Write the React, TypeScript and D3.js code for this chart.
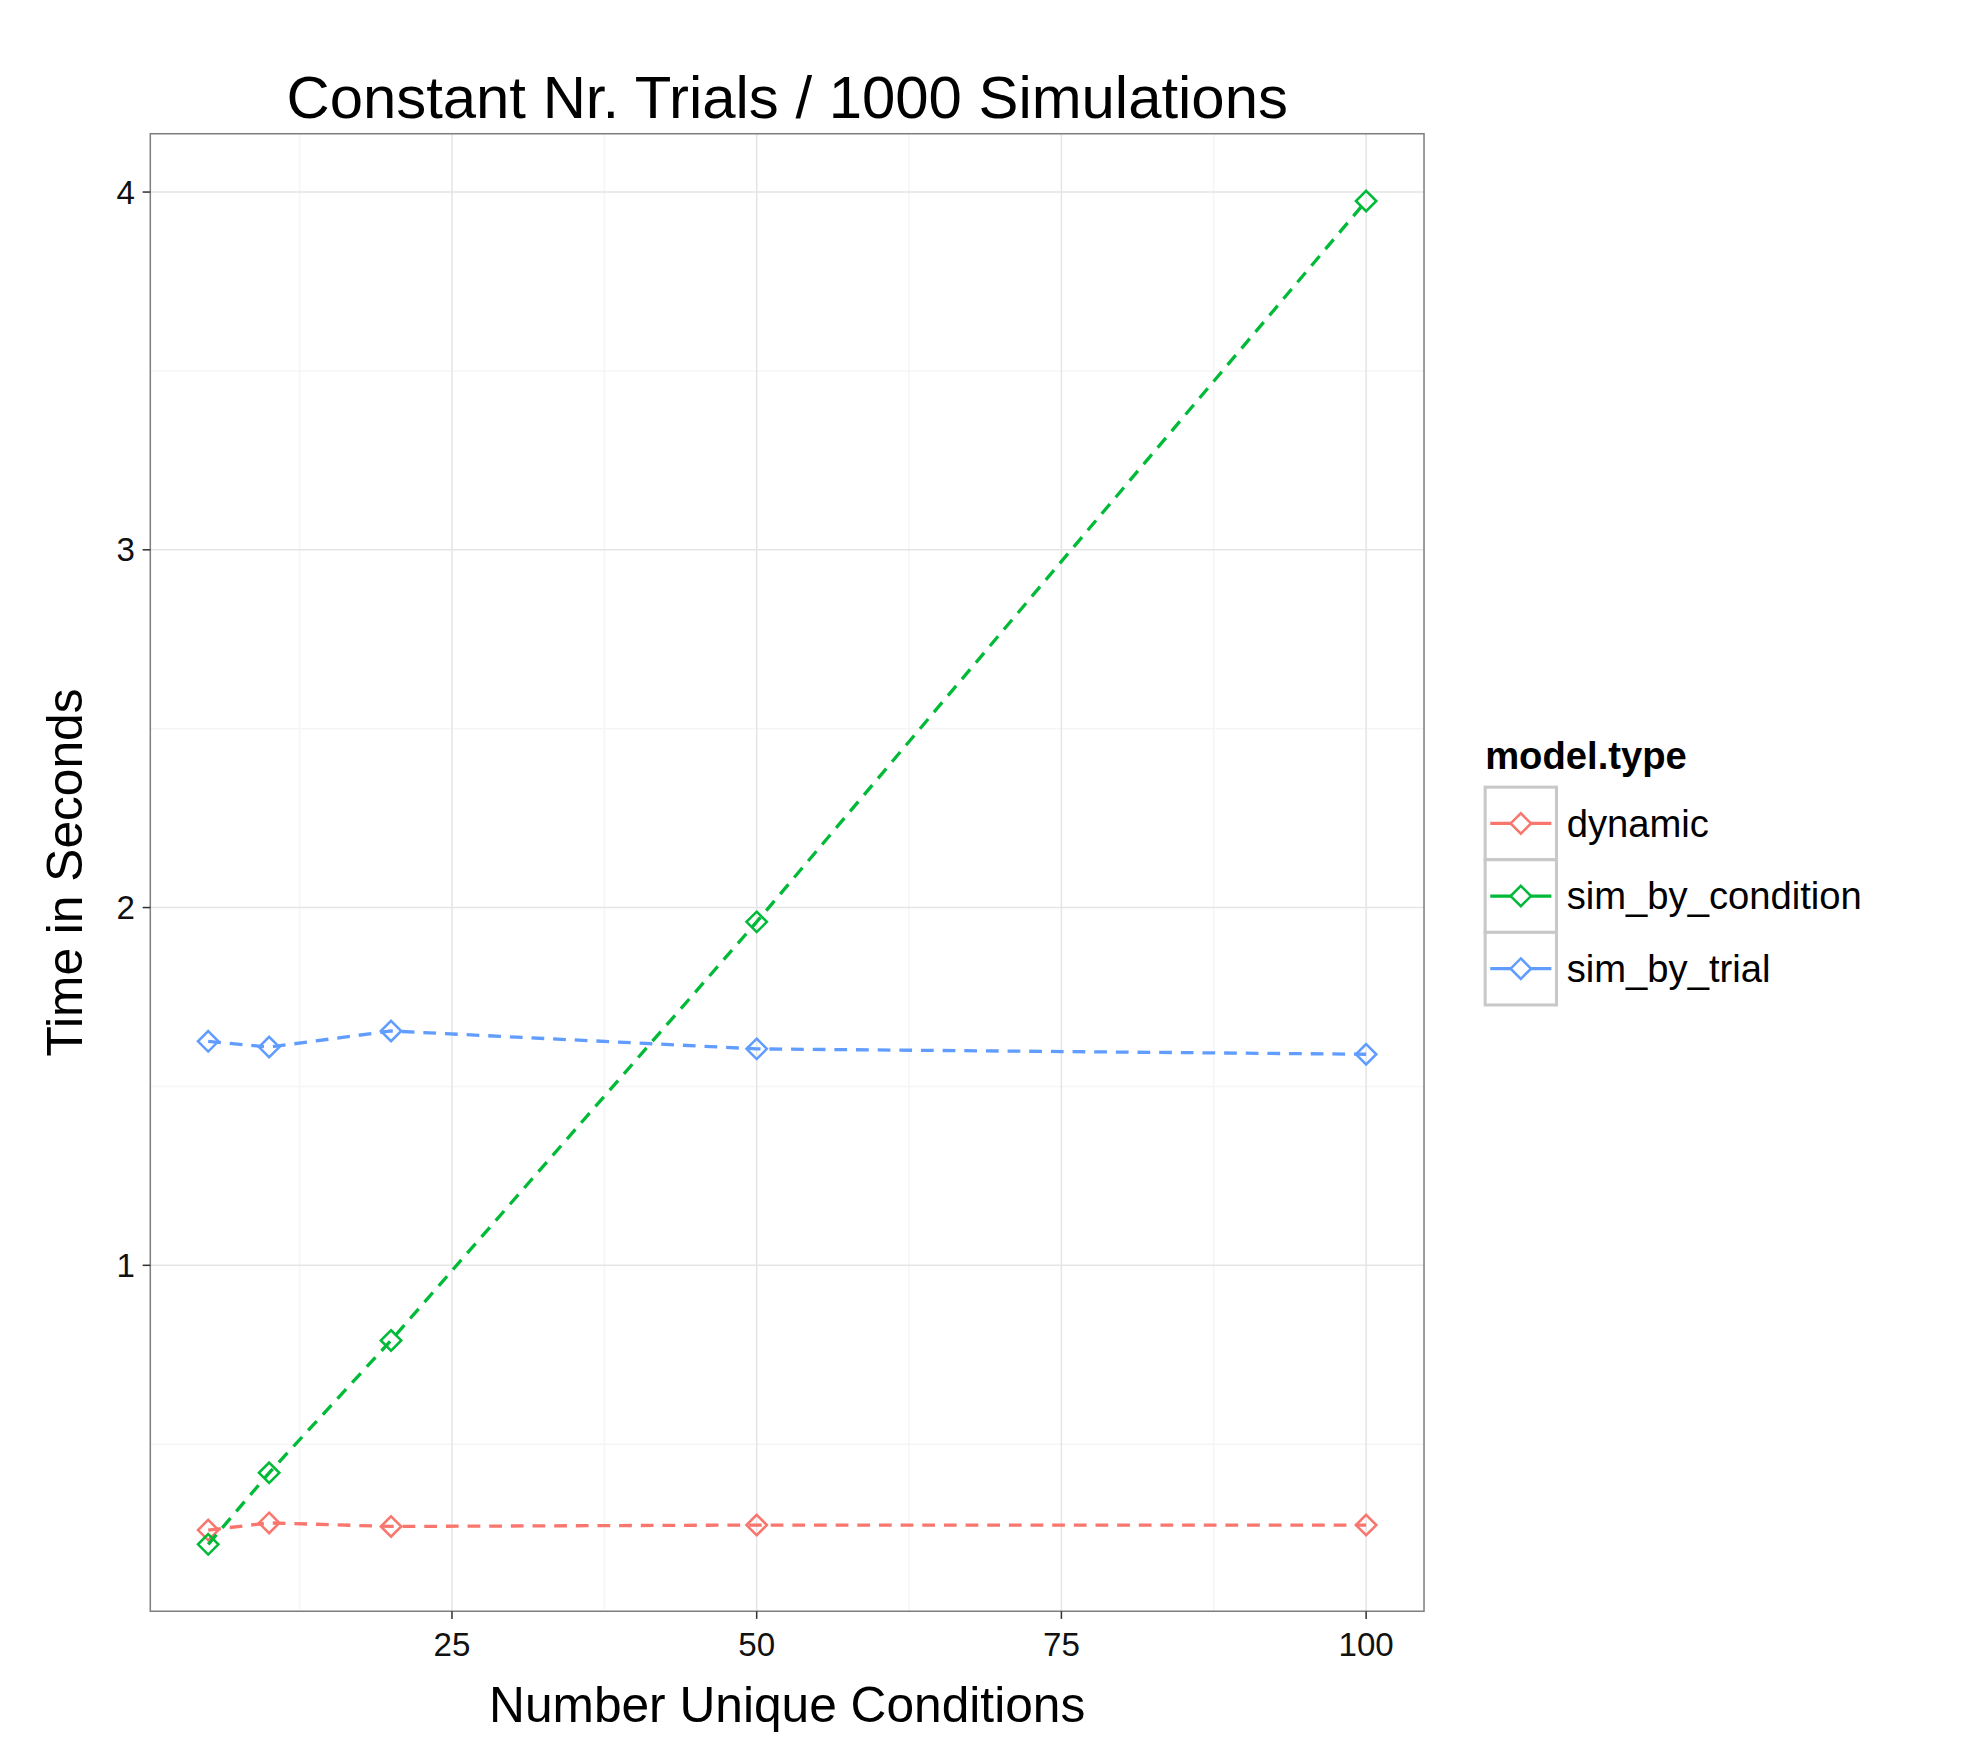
import * as d3 from "d3"

const conditions = [5, 10, 20, 50, 100]
const seriesNames = ["dynamic", "sim_by_condition", "sim_by_trial"]
const dynamicTimes = [0.26, 0.28, 0.27, 0.274, 0.274]
const byConditionTimes = [0.22, 0.42, 0.79, 1.96, 3.975]
const byTrialTimes = [1.626, 1.61, 1.655, 1.605, 1.59]
const xTicks = [25, 50, 75, 100]
const xMinor = [12.5, 37.5, 62.5, 87.5]
const yTicks = [1, 2, 3, 4]
const yMinor = [0.5, 1.5, 2.5, 3.5]
const colors = ["#F8766D", "#00BA38", "#619CFF"]

const series = [dynamicTimes, byConditionTimes, byTrialTimes]

export default function App() {
  const k = 1987 / 1560
  const left = 118, right = 1118, top = 105, bottom = 1265
  const x = d3.scaleLinear().domain([0.25, 104.75]).range([left, right])
  const y = d3.scaleLinear().domain([0.033, 4.163]).range([bottom, top])
  const line = d3.line<number>().x((_, i) => x(conditions[i])).y(d => y(d))
  const font = "Liberation Sans, Arial, sans-serif"
  const diamond = (cx: number, cy: number, r = 8) =>
    `M${cx},${cy - r}L${cx + r},${cy}L${cx},${cy + r}L${cx - r},${cy}Z`

  return (
    <svg width={1987} height={1758} style={{ position: "absolute", left: 0, top: 0, background: "#fff" }} fontFamily={font}>
      <g transform={`scale(${k})`}>
        <rect x={left} y={top} width={right - left} height={bottom - top} fill="#fff" />
        {xMinor.map(v => <line key={"xm" + v} x1={x(v)} x2={x(v)} y1={top} y2={bottom} stroke="#f5f5f5" strokeWidth={1.2} />)}
        {yMinor.map(v => <line key={"ym" + v} y1={y(v)} y2={y(v)} x1={left} x2={right} stroke="#f5f5f5" strokeWidth={1.2} />)}
        {xTicks.map(v => <line key={"xg" + v} x1={x(v)} x2={x(v)} y1={top} y2={bottom} stroke="#e5e5e5" strokeWidth={1.2} />)}
        {yTicks.map(v => <line key={"yg" + v} y1={y(v)} y2={y(v)} x1={left} x2={right} stroke="#e5e5e5" strokeWidth={1.2} />)}
        {series.map((s, i) => (
          <g key={seriesNames[i]}>
            <path d={line(s)!} fill="none" stroke={colors[i]} strokeWidth={2.6} strokeDasharray="10 7" />
            {s.map((v, j) => <path key={j} d={diamond(x(conditions[j]), y(v))} fill="none" stroke={colors[i]} strokeWidth={2} />)}
          </g>
        ))}
        <rect x={left} y={top} width={right - left} height={bottom - top} fill="none" stroke="#7f7f7f" strokeWidth={1.2} />
        {xTicks.map(v => (
          <g key={"xt" + v}>
            <line x1={x(v)} x2={x(v)} y1={bottom} y2={bottom + 6} stroke="#333" strokeWidth={1.2} />
            <text x={x(v)} y={bottom + 35} textAnchor="middle" fontSize={26} fill="#111">{v}</text>
          </g>
        ))}
        {yTicks.map(v => (
          <g key={"yt" + v}>
            <line x1={left - 6} x2={left} y1={y(v)} y2={y(v)} stroke="#333" strokeWidth={1.2} />
            <text x={left - 12} y={y(v) + 9} textAnchor="end" fontSize={26} fill="#111">{v}</text>
          </g>
        ))}
        <text x={(left + right) / 2} y={93} textAnchor="middle" fontSize={47}>Constant Nr. Trials / 1000 Simulations</text>
        <text x={(left + right) / 2} y={1352} textAnchor="middle" fontSize={39}>Number Unique Conditions</text>
        <text transform={`translate(64,${(top + bottom) / 2}) rotate(-90)`} textAnchor="middle" fontSize={39}>Time in Seconds</text>
        <text x={1166} y={604} fontSize={30} fontWeight="bold">model.type</text>
        {seriesNames.map((n, i) => {
          const ry = 618 + i * 57
          return (
            <g key={"lg" + n}>
              <rect x={1166} y={ry} width={56} height={57} fill="#fff" stroke="#c8c8c8" strokeWidth={2.4} />
              <line x1={1170} x2={1218} y1={ry + 28.5} y2={ry + 28.5} stroke={colors[i]} strokeWidth={2.6} />
              <path d={diamond(1194, ry + 28.5)} fill="#fff" stroke={colors[i]} strokeWidth={2} />
              <text x={1230} y={ry + 39} fontSize={30}>{n}</text>
            </g>
          )
        })}
      </g>
    </svg>
  )
}
